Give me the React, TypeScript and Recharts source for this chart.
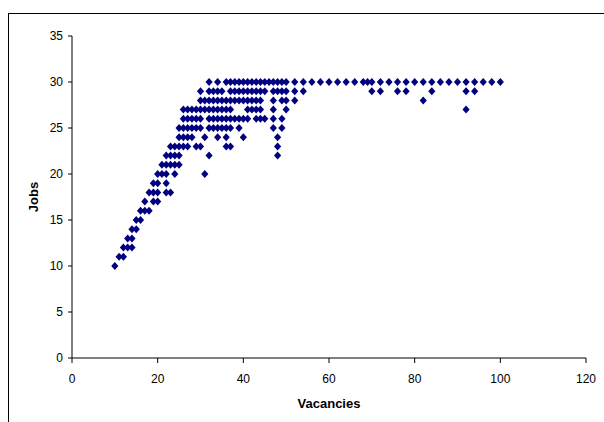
import { Scatter, ScatterChart, XAxis, YAxis } from 'recharts'

const JOBS = [10, 11, 12, 13, 14, 15, 16, 17, 18, 19, 20, 21, 22, 23, 24, 25, 26, 27, 28, 29, 30]

// vacancies observed at each jobs level, same order as JOBS
const VACANCIES_BY_JOBS: number[][] = [
  [10],
  [11, 12],
  [12, 13, 14],
  [13, 14],
  [14, 15],
  [15, 16],
  [16, 17, 18],
  [17, 19, 20],
  [18, 19, 20, 22, 23],
  [19, 20, 22],
  [20, 21, 22, 24, 31],
  [21, 22, 23, 24, 25],
  [22, 23, 24, 25, 32, 48],
  [23, 24, 25, 26, 27, 29, 30, 36, 37, 48],
  [25, 26, 27, 28, 31, 34, 36, 40, 48],
  [25, 26, 27, 28, 29, 30, 32, 33, 34, 35, 36, 37, 39, 47, 49],
  [26, 27, 28, 29, 30, 32, 33, 34, 35, 36, 37, 38, 39, 40, 41, 43, 44, 45, 47, 49],
  [26, 27, 28, 29, 30, 31, 32, 33, 34, 35, 36, 37, 41, 42, 43, 44, 47, 50, 92],
  [30, 31, 32, 33, 34, 35, 36, 37, 38, 39, 40, 41, 42, 43, 44, 47, 49, 50, 52, 82],
  [30, 32, 33, 34, 35, 37, 38, 39, 40, 41, 42, 43, 44, 45, 47, 48, 49, 50, 52, 54, 70, 72, 76, 78, 84, 92, 94],
  [
    32, 34, 36, 37, 38, 39, 40, 41, 42, 43, 44, 45, 46, 47, 48, 49, 50, 52, 54, 56, 58, 60, 62, 64, 66, 68, 69, 70,
    72, 74, 76, 78, 80, 82, 84, 86, 88, 90, 92, 94, 96, 98, 100,
  ],
]

const X_TICKS = [0, 20, 40, 60, 80, 100, 120]
const Y_TICKS = [0, 5, 10, 15, 20, 25, 30, 35]

const points = JOBS.flatMap((jobs, i) => VACANCIES_BY_JOBS[i].map((v) => ({ x: v, y: jobs })))

const FONT = '"Liberation Sans", Arial, sans-serif'

function Diamond(props: { cx?: number; cy?: number }) {
  const { cx, cy } = props
  if (cx == null || cy == null) return null
  return (
    <polygon
      points={`${cx},${cy - 4} ${cx + 3.6},${cy} ${cx},${cy + 4} ${cx - 3.6},${cy}`}
      fill="#000080"
    />
  )
}

function YTitle(props: any) {
  const vb = props.viewBox
  const cy = vb.y + vb.height / 2
  return (
    <text
      x={33}
      y={cy}
      transform={`rotate(-90, 33, ${cy})`}
      textAnchor="middle"
      dominantBaseline="central"
      fontFamily={FONT}
      fontSize={13}
      fontWeight="bold"
      fill="#000"
    >
      Jobs
    </text>
  )
}

function XTitle(props: any) {
  const vb = props.viewBox
  return (
    <text
      x={vb.x + vb.width / 2}
      y={408}
      textAnchor="middle"
      fontFamily={FONT}
      fontSize={13}
      fontWeight="bold"
      fill="#000"
    >
      Vacancies
    </text>
  )
}

export default function App() {
  return (
    <div
      style={{
        position: 'fixed',
        left: 0,
        top: 0,
        width: 604,
        height: 422,
        overflow: 'hidden',
        background: '#fff',
        fontFamily: FONT,
      }}
    >
      <div
        style={{
          position: 'absolute',
          left: 8,
          top: 13,
          width: 800,
          height: 600,
          borderLeft: '1px solid #000',
          borderTop: '1px solid #000',
        }}
      />
      <div style={{ position: 'absolute', left: 0, top: 0 }}>
        <ScatterChart width={604} height={422} margin={{ top: 36, right: 18, bottom: 24, left: 0 }}>
          <XAxis
            type="number"
            dataKey="x"
            domain={[0, 120]}
            ticks={X_TICKS}
            height={40}
            axisLine={{ stroke: '#000' }}
            tickLine={{ stroke: '#000' }}
            tickSize={5}
            tickMargin={11}
            tick={{ fill: '#000', fontSize: 12, fontFamily: FONT }}
            label={XTitle}
          />
          <YAxis
            type="number"
            dataKey="y"
            domain={[0, 35]}
            ticks={Y_TICKS}
            width={72}
            axisLine={{ stroke: '#000' }}
            tickLine={{ stroke: '#000' }}
            tickSize={4}
            tickMargin={5}
            tick={{ fill: '#000', fontSize: 12, fontFamily: FONT }}
            label={YTitle}
          />
          <Scatter data={points} shape={<Diamond />} isAnimationActive={false} />
        </ScatterChart>
      </div>
    </div>
  )
}
